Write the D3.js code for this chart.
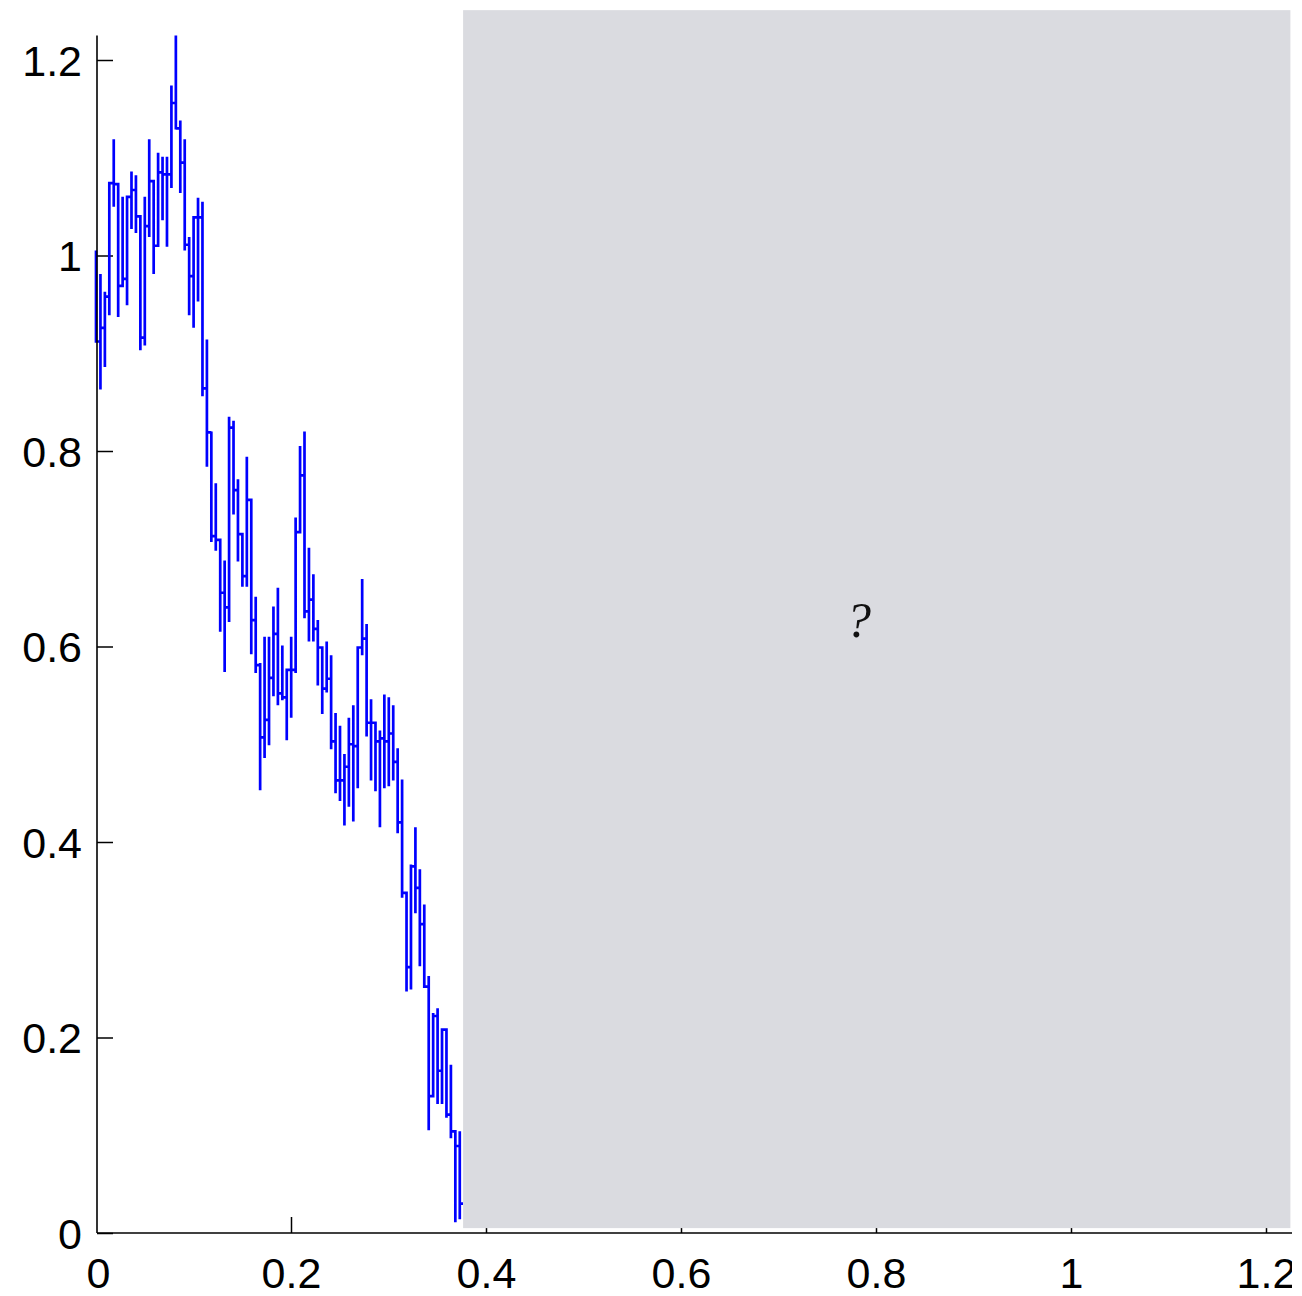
<!DOCTYPE html>
<html>
<head>
<meta charset="utf-8">
<script src="https://cdn.jsdelivr.net/npm/d3@7"></script>
<style>
  html, body { margin: 0; padding: 0; background: #fff; }
  svg { display: block; }
</style>
</head>
<body>
<div id="chart"></div>
<script>
// ============================== DATA ==============================

// tick values on both axes
const xTicks = [0, 0.2, 0.4, 0.6, 0.8, 1, 1.2]
const yTicks = [0, 0.2, 0.4, 0.6, 0.8, 1, 1.2]

// the path is drawn column by column: at each time step the line
// runs between a high and a low value, then leaves at the exit value
const stepDt = 0.00455
const stepEnd = 0.3765

const stepHigh = [1.005, 0.981, 0.963, 1.074, 1.119, 1.073, 1.060, 1.060, 1.086, 1.082,
  1.040, 1.060, 1.119, 1.076, 1.105, 1.101, 1.101, 1.174, 1.225, 1.138,
  1.119, 1.019, 1.039, 1.059, 1.055, 0.914, 0.820, 0.767, 0.709, 0.688,
  0.835, 0.831, 0.771, 0.715, 0.794, 0.750, 0.651, 0.583, 0.610, 0.610,
  0.641, 0.660, 0.601, 0.576, 0.610, 0.732, 0.805, 0.820, 0.701, 0.674,
  0.627, 0.599, 0.605, 0.591, 0.532, 0.519, 0.490, 0.527, 0.540, 0.599,
  0.669, 0.623, 0.546, 0.522, 0.514, 0.551, 0.548, 0.540, 0.496, 0.464,
  0.348, 0.377, 0.415, 0.372, 0.336, 0.263, 0.225, 0.230, 0.209, 0.208,
  0.172, 0.104, 0.104]

const stepLow = [0.912, 0.863, 0.886, 0.939, 1.050, 0.937, 0.969, 0.949, 1.027, 1.023,
  0.903, 0.908, 1.019, 0.981, 1.010, 1.036, 1.009, 1.069, 1.129, 1.064,
  1.005, 0.939, 0.926, 0.953, 0.856, 0.784, 0.707, 0.698, 0.615, 0.574,
  0.625, 0.735, 0.687, 0.661, 0.661, 0.592, 0.573, 0.453, 0.486, 0.499,
  0.549, 0.540, 0.545, 0.504, 0.527, 0.573, 0.717, 0.629, 0.605, 0.605,
  0.560, 0.531, 0.553, 0.495, 0.450, 0.442, 0.417, 0.436, 0.421, 0.455,
  0.591, 0.508, 0.463, 0.452, 0.415, 0.455, 0.457, 0.463, 0.409, 0.343,
  0.247, 0.249, 0.327, 0.273, 0.252, 0.105, 0.150, 0.132, 0.132, 0.118,
  0.097, 0.011, 0.014]

const stepExit = [0.912, 0.926, 0.958, 1.074, 1.073, 0.969, 0.976, 1.060, 1.067, 1.040,
  0.916, 1.030, 1.076, 1.010, 1.085, 1.083, 1.083, 1.156, 1.130, 1.095,
  1.011, 0.979, 1.039, 1.039, 0.864, 0.819, 0.713, 0.709, 0.655, 0.640,
  0.824, 0.760, 0.715, 0.672, 0.750, 0.627, 0.581, 0.507, 0.525, 0.568,
  0.613, 0.552, 0.548, 0.576, 0.576, 0.717, 0.775, 0.636, 0.648, 0.618,
  0.599, 0.557, 0.567, 0.503, 0.463, 0.463, 0.477, 0.500, 0.498, 0.599,
  0.608, 0.522, 0.522, 0.503, 0.506, 0.503, 0.511, 0.482, 0.420, 0.348,
  0.272, 0.375, 0.353, 0.316, 0.252, 0.140, 0.222, 0.166, 0.208, 0.121,
  0.104, 0.089, 0.030]

// shaded unknown region and its mark
const unknownX = [0.3765, 1.225]
const unknownY = [0.005, 1.251]
const unknownLabel = { x: 0.782, y: 0.61, text: '?' }

// ============================== SETTINGS ==============================

const width = 1292
const height = 1296

const x = d3.scaleLinear().domain([0, 1.2]).range([96, 1266])
const y = d3.scaleLinear().domain([0, 1.2]).range([1233, 60])

const svg = d3.select('#chart')
  .append('svg')
  .attr('width', width)
  .attr('height', height)
  .style('overflow', 'hidden')

const axisX0 = x(0) + 1   // where the vertical axis sits
const axisY0 = y(0)       // where the horizontal axis sits

// ============================== TICKS ==============================

const yAxis = svg.append('g')
  .attr('transform', `translate(${axisX0},0)`)
  .call(d3.axisLeft(y)
    .tickValues(yTicks)
    .tickSizeInner(-16)
    .tickSizeOuter(0)
    .tickPadding(15)
    .tickFormat(d => String(d)))
yAxis.select('.domain').remove()

const xAxis = svg.append('g')
  .attr('transform', `translate(0,${axisY0})`)
  .call(d3.axisBottom(x)
    .tickValues(xTicks)
    .tickSizeInner(-16)
    .tickSizeOuter(0)
    .tickPadding(24)
    .tickFormat(d => String(d)))
xAxis.select('.domain').remove()

svg.selectAll('.tick line')
  .attr('stroke', '#000')
  .attr('stroke-width', 1.5)
svg.selectAll('.tick text')
  .attr('fill', '#000')
  .style('font-family', '"Liberation Sans", Arial, sans-serif')
  .style('font-size', '43px')
yAxis.selectAll('.tick text').attr('dy', '0.36em')
xAxis.selectAll('.tick text').attr('dy', '0.72em')
// the 0 ticks coincide with the axes
xAxis.selectAll('.tick').filter(d => d === 0).select('line').remove()
xAxis.selectAll('.tick').filter(d => d === 0).select('text').attr('x', 2)

// ============================== PATH ==============================

const pts = []
stepHigh.forEach((hi, i) => {
  const t = i * stepDt
  if (i > 0) pts.push([t, stepExit[i - 1]])
  pts.push([t, hi])
  pts.push([t, stepLow[i]])
  pts.push([t, stepExit[i]])
})
pts.push([stepEnd, stepExit[stepExit.length - 1]])

const line = d3.line()
  .x(d => x(d[0]))
  .y(d => y(d[1]))

svg.append('path')
  .datum(pts)
  .attr('d', line)
  .attr('fill', 'none')
  .attr('stroke', '#0000ff')
  .attr('stroke-width', 2.7)

// ============================== UNKNOWN REGION ==============================

svg.append('rect')
  .attr('x', x(unknownX[0]))
  .attr('y', y(unknownY[1]))
  .attr('width', x(unknownX[1]) - x(unknownX[0]))
  .attr('height', y(unknownY[0]) - y(unknownY[1]))
  .attr('fill', '#dadbe0')

svg.append('text')
  .attr('x', x(unknownLabel.x))
  .attr('y', y(unknownLabel.y))
  .attr('text-anchor', 'middle')
  .style('font-family', '"Liberation Serif", "Times New Roman", serif')
  .style('font-style', 'italic')
  .style('font-size', '50px')
  .attr('fill', '#111')
  .text(unknownLabel.text)

// ============================== AXES LINES ==============================

svg.append('line')
  .attr('x1', axisX0).attr('x2', axisX0)
  .attr('y1', y(1.225)).attr('y2', axisY0)
  .attr('stroke', '#000')
  .attr('stroke-width', 1.6)

svg.append('line')
  .attr('x1', axisX0).attr('x2', width)
  .attr('y1', axisY0).attr('y2', axisY0)
  .attr('stroke', '#000')
  .attr('stroke-width', 1.6)
</script>
</body>
</html>
